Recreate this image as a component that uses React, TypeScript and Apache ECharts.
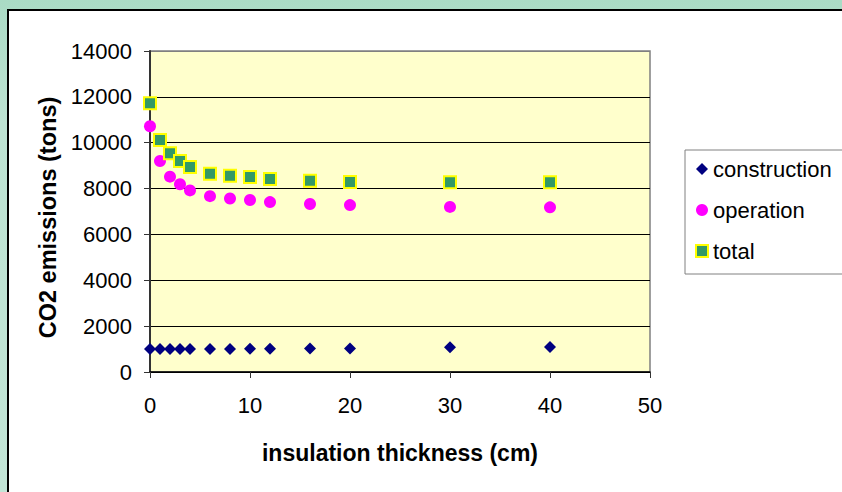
import React, { useEffect, useRef } from "react";
import * as echarts from "echarts";

const xValues = [0, 1, 2, 3, 4, 6, 8, 10, 12, 16, 20, 30, 40];
const construction = [1000, 1000, 1000, 1000, 1000, 1000, 1000, 1010, 1010, 1020, 1020, 1080, 1090];
const operation = [10720, 9200, 8520, 8190, 7920, 7670, 7570, 7500, 7410, 7330, 7280, 7200, 7180];
const total = [11720, 10120, 9540, 9200, 8940, 8650, 8560, 8500, 8420, 8340, 8290, 8280, 8280];
const seriesNames = ["construction", "operation", "total"];
const yMax = 14000;
const yStep = 2000;
const xMax = 50;
const xStep = 10;

const FONT = "'Liberation Sans', Arial, sans-serif";

function pairs(ys: number[]) {
  return xValues.map((x, i) => [x, ys[i]]);
}

export default function App() {
  const ref = useRef<HTMLDivElement>(null);
  useEffect(() => {
    if (!ref.current) return;
    const chart = echarts.init(ref.current, undefined, { renderer: "svg" });
    const splitColors: string[] = [];
    for (let v = 0; v <= yMax; v += yStep) splitColors.push(v === yMax ? "#808080" : "#000000");
    chart.setOption({
      animation: false,
      backgroundColor: "transparent",
      textStyle: { fontFamily: FONT },
      grid: {
        left: 150,
        top: 51,
        width: 500,
        height: 321,
        show: true,
        backgroundColor: "#FFFFCC",
        borderColor: "#808080",
        borderWidth: 1.5,
      },
      legend: {
        orient: "vertical",
        left: 685,
        top: 150,
        itemWidth: 12,
        itemHeight: 12,
        itemGap: 17,
        padding: [7, 30, 11, 10],
        borderColor: "#808080",
        borderWidth: 1,
        textStyle: { fontSize: 22, fontFamily: FONT, color: "#000", lineHeight: 24 },
        data: [
          { name: seriesNames[0], icon: "diamond" },
          { name: seriesNames[1], icon: "circle" },
          { name: seriesNames[2], icon: "rect" },
        ],
      },
      xAxis: {
        type: "value",
        min: 0,
        max: xMax,
        interval: xStep,
        name: "insulation thickness (cm)",
        nameLocation: "middle",
        nameGap: 69,
        nameTextStyle: { fontSize: 23, fontWeight: "bold", color: "#000", fontFamily: FONT },
        axisLine: { show: true, lineStyle: { color: "#000", width: 1.5 } },
        axisTick: { show: true, length: 6, lineStyle: { color: "#333" } },
        axisLabel: { fontSize: 22, margin: 22, color: "#000", fontFamily: FONT },
        splitLine: { show: false },
      },
      yAxis: {
        type: "value",
        min: 0,
        max: yMax,
        interval: yStep,
        name: "CO2 emissions (tons)",
        nameLocation: "middle",
        nameGap: 86,
        nameTextStyle: {
          fontSize: 23.5,
          fontWeight: "bold",
          color: "#000",
          fontFamily: FONT,
          padding: [0, 12, 0, 0],
        },
        axisLine: { show: true, lineStyle: { color: "#333", width: 2 } },
        axisTick: { show: true, length: 6, lineStyle: { color: "#333" } },
        axisLabel: {
          fontSize: 22,
          margin: 18,
          color: "#000",
          fontFamily: FONT,
          formatter: (v: number) => String(v),
        },
        splitLine: { show: true, lineStyle: { color: splitColors, width: 1 } },
      },
      series: [
        {
          name: seriesNames[0],
          type: "scatter",
          symbol: "diamond",
          symbolSize: 12,
          itemStyle: { color: "#000080", opacity: 1 },
          data: pairs(construction),
        },
        {
          name: seriesNames[1],
          type: "scatter",
          symbol: "circle",
          symbolSize: 12,
          itemStyle: { color: "#FF00FF", opacity: 1 },
          data: pairs(operation),
        },
        {
          name: seriesNames[2],
          type: "scatter",
          symbol: "rect",
          symbolSize: 12,
          itemStyle: { color: "#339966", borderColor: "#FFFF00", borderWidth: 2, opacity: 1 },
          data: pairs(total),
        },
      ],
    });
    return () => chart.dispose();
  }, []);

  return (
    <div
      style={{
        position: "fixed",
        left: 0,
        top: 0,
        width: 842,
        height: 492,
        overflow: "hidden",
        background: "linear-gradient(180deg, #AADBC5 0%, #BDE3D2 25%, #C2E5D6 100%)",
      }}
    >
      <div
        style={{
          position: "absolute",
          left: 7,
          top: 9,
          width: 900,
          height: 600,
          background: "#FFFFFF",
          border: "2px solid #000",
        }}
      />
      <div ref={ref} style={{ position: "absolute", left: 0, top: 0, width: 842, height: 492 }} />
    </div>
  );
}
